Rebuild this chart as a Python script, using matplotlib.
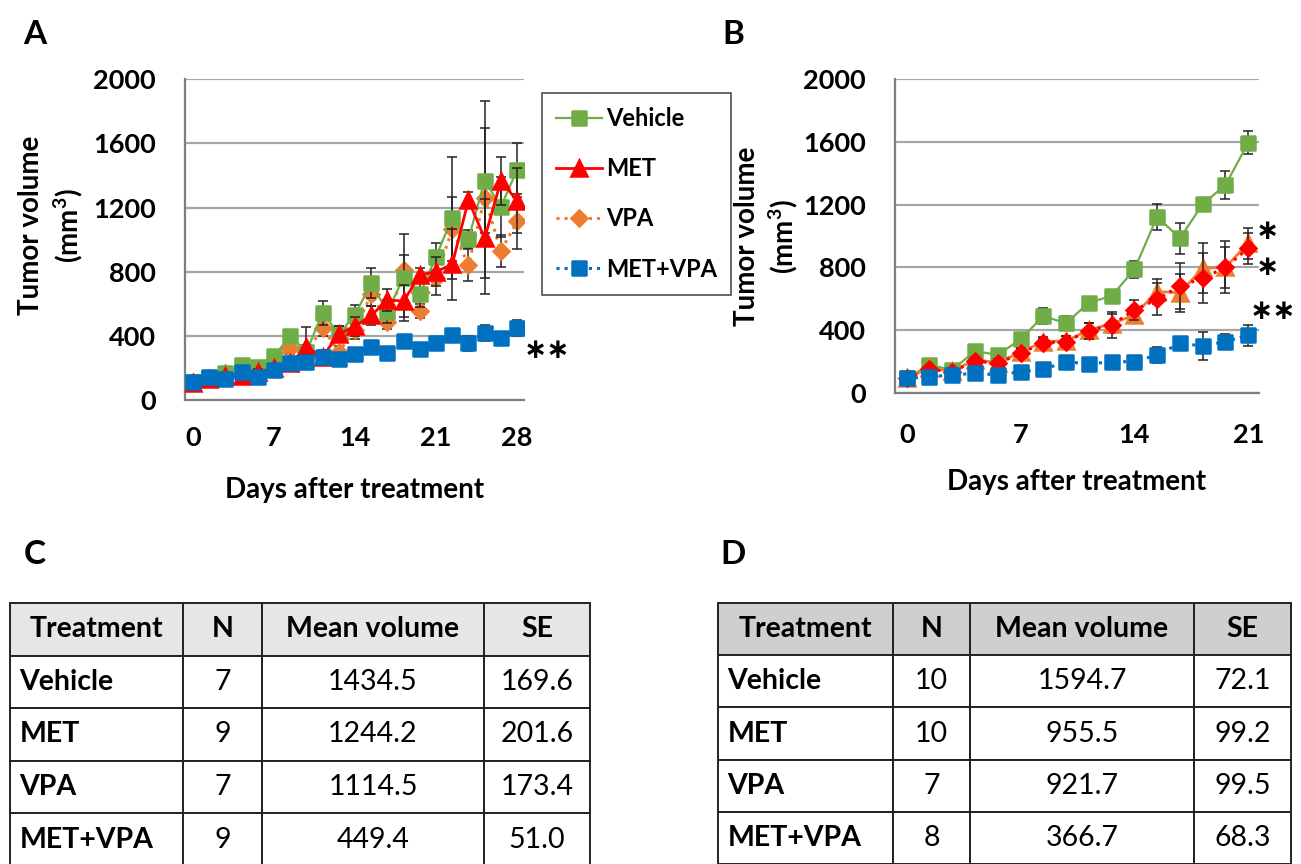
import matplotlib
matplotlib.use("Agg")
import matplotlib.pyplot as plt
from matplotlib.markers import MarkerStyle
from matplotlib.table import Table

plt.rcParams['font.family'] = ['Lato', 'DejaVu Sans']
plt.rcParams['font.weight'] = 'bold'
plt.rcParams['mathtext.fontset'] = 'custom'
plt.rcParams['mathtext.rm'] = 'Lato:bold'
plt.rcParams['mathtext.bf'] = 'Lato:bold'

W, H = 1301, 864

# ---- panel A data (days after treatment, mean volume, SE) ----
days_a = [0, 1.4, 2.8, 4.2, 5.6, 7, 8.4, 9.8, 11.2, 12.6, 14, 15.4, 16.8, 18.2, 19.6, 21, 22.4, 23.8, 25.2, 26.6, 28]
vehicle_a = [110, 140, 166, 218, 208, 274, 399, 300, 544, 410, 532, 728, 551, 763, 659, 894, 1137, 1004, 1368, 1206, 1434]
met_a = [105, 130, 150, 150, 175, 200, 230, 328, 270, 412, 460, 527, 624, 617, 780, 800, 846, 1247, 1008, 1366, 1244]
vpa_a = [110, 135, 170, 150, 198, 249, 322, 300, 447, 301, 437, 659, 484, 811, 555, 763, 1066, 842, 1262, 929, 1114]
combo_a = [114, 146, 131, 177, 146, 187, 233, 239, 266, 254, 287, 328, 291, 368, 316, 353, 403, 353, 416, 385, 449]
vehicle_se_a = [10, 15, 20, 20, 20, 25, 35, 45, 75, 50, 60, 94, 70, 270, 80, 83, 380, 58, 328, 187, 170]
met_se_a = [10, 15, 15, 20, 20, 25, 30, 129, 40, 50, 60, 62, 70, 100, 46, 90, 222, 50, 245, 152, 202]
vpa_se_a = [10, 15, 25, 20, 20, 25, 35, 40, 50, 35, 55, 70, 40, 94, 42, 108, 200, 98, 600, 98, 173]
combo_se_a = [15, 20, 15, 20, 15, 20, 25, 40, 30, 35, 25, 25, 40, 33, 35, 30, 30, 45, 50, 40, 51]

# ---- panel B data ----
days_b = [0, 1.4, 2.8, 4.2, 5.6, 7, 8.4, 9.8, 11.2, 12.6, 14, 15.4, 16.8, 18.2, 19.6, 21]
vehicle_b = [92, 177, 145, 266, 241, 341, 489, 443, 575, 617, 787, 1123, 985, 1204, 1326, 1595]
met_b = [95, 155, 138, 210, 192, 258, 325, 330, 400, 440, 496, 645, 638, 794, 800, 955]
vpa_b = [92, 149, 134, 202, 187, 251, 319, 326, 396, 432, 528, 596, 681, 730, 800, 922]
combo_b = [92, 102, 113, 124, 113, 134, 149, 198, 183, 198, 198, 241, 315, 298, 326, 367]
vehicle_se_b = [10, 20, 15, 25, 20, 25, 53, 45, 30, 40, 53, 83, 98, 30, 87, 72]
met_se_b = [10, 15, 15, 20, 20, 25, 30, 35, 45, 60, 50, 80, 120, 160, 130, 99]
vpa_se_b = [10, 15, 15, 20, 20, 25, 30, 35, 51, 81, 64, 102, 149, 160, 166, 100]
combo_se_b = [10, 10, 10, 15, 10, 15, 15, 20, 20, 20, 20, 51, 30, 89, 47, 68]

# ---- tables ----
col_labels = ["Treatment", "N", "Mean volume", "SE"]
treatments = ["Vehicle", "MET", "VPA", "MET+VPA"]
n_c = ["7", "9", "7", "9"]
mean_c = ["1434.5", "1244.2", "1114.5", "449.4"]
se_c = ["169.6", "201.6", "173.4", "51.0"]
n_d = ["10", "10", "7", "8"]
mean_d = ["1594.7", "955.5", "921.7", "366.7"]
se_d = ["72.1", "99.2", "99.5", "68.3"]

GREEN, RED, ORANGE, BLUE = '#70ad47', '#ff0000', '#ed7d31', '#0070c0'
TICK_FS = 19.5
LAB_FS = 20


def px_axes(fig, left, top, right, bottom):
    return fig.add_axes([left / W, 1 - bottom / H, (right - left) / W, (bottom - top) / H])


def fx(x):
    return x / W


def fy(y):
    return 1 - y / H


def rsq():
    return MarkerStyle('s', joinstyle='round')


def series(ax, x, y, se, color, marker, ls, lw, ms, z, label):
    ax.errorbar(x, y, yerr=se, fmt='none', ecolor='#222222', elinewidth=1.1,
                capsize=3.5, capthick=1.1, zorder=z - 0.5)
    ax.plot(x, y, color=color, ls=ls, lw=lw, marker=marker, ms=ms,
            mfc=color, mec=color, mew=1.8, zorder=z, label=label)


def style_axes(ax, xticks, xlim, xpad):
    ax.set_ylim(0, 2000)
    ax.set_xlim(*xlim)
    ax.set_yticks([0, 400, 800, 1200, 1600, 2000])
    ax.set_xticks(xticks)
    ax.yaxis.grid(True, color='#a6a6a6', lw=1.6)
    ax.set_axisbelow(True)
    for s in ['top', 'right']:
        ax.spines[s].set_visible(False)
    for s in ['left', 'bottom']:
        ax.spines[s].set_color('#7f7f7f')
        ax.spines[s].set_linewidth(1.6)
    ax.tick_params(axis='y', length=0, pad=21, labelsize=TICK_FS)
    ax.tick_params(axis='x', length=0, pad=xpad, labelsize=TICK_FS)
    for t in ax.get_xticklabels() + ax.get_yticklabels():
        t.set_fontweight('bold')


def star(x, y, txt, ha='center'):
    fig.text(fx(x), fy(y), txt, fontsize=20, fontweight='bold',
             family='DejaVu Sans', ha=ha, va='center')


fig = plt.figure(figsize=(W / 100, H / 100), dpi=100)

# ---------- panel A ----------
axA = px_axes(fig, 185, 79.3, 524, 400)
series(axA, days_a, vpa_a, vpa_se_a, ORANGE, 'D', ':', 2.2, 8.5, 3, 'VPA')
series(axA, days_a, vehicle_a, vehicle_se_a, GREEN, rsq(), '-', 1.6, 10.5, 4, 'Vehicle')
series(axA, days_a, met_a, met_se_a, RED, '^', '-', 2.0, 11, 5, 'MET')
series(axA, days_a, combo_a, combo_se_a, BLUE, rsq(), ':', 2.2, 10.5, 6, 'MET+VPA')
style_axes(axA, [0, 7, 14, 21, 28], (-0.69, 28.6), 19)
axA.set_xlabel('Days after treatment', fontsize=LAB_FS, fontweight='bold', labelpad=19)
axA.set_ylabel('Tumor volume\n(mm$^{3}$)', fontsize=LAB_FS, fontweight='bold', linespacing=1.25)
axA.yaxis.set_label_coords(-0.295, 0.545)

handles, labels = axA.get_legend_handles_labels()
order = [labels.index(k) for k in treatments]
leg = axA.legend([handles[i] for i in order], [labels[i] for i in order],
                 loc='upper left', bbox_to_anchor=(fx(542), fy(93)),
                 bbox_transform=fig.transFigure, frameon=True, fancybox=False,
                 edgecolor='#222222', fontsize=17, handlelength=1.95,
                 handletextpad=0.15, labelspacing=1.15, borderpad=0.6,
                 borderaxespad=0)
leg.get_frame().set_linewidth(1.2)
for t in leg.get_texts():
    t.set_fontweight('bold')

star(547, 350, '∗∗')

# ---------- panel B ----------
axB = px_axes(fig, 895, 79.3, 1259, 392.7)
series(axB, days_b, vehicle_b, vehicle_se_b, GREEN, rsq(), '-', 1.6, 10.5, 3, 'Vehicle')
series(axB, days_b, met_b, met_se_b, ORANGE, '^', '-', 2.0, 11, 4, 'MET')
series(axB, days_b, vpa_b, vpa_se_b, RED, 'D', ':', 2.2, 8.5, 5, 'VPA')
series(axB, days_b, combo_b, combo_se_b, BLUE, rsq(), ':', 2.2, 10.5, 6, 'MET+VPA')
style_axes(axB, [0, 7, 14, 21], (-0.72, 21.66), 22)
axB.set_xlabel('Days after treatment', fontsize=LAB_FS, fontweight='bold', labelpad=16)
axB.set_ylabel('Tumor volume\n(mm$^{3}$)', fontsize=LAB_FS, fontweight='bold', linespacing=1.25)
axB.yaxis.set_label_coords(-0.26, 0.5)

star(1267, 231, '∗')
star(1267, 267, '∗')
star(1296, 311, '∗∗', ha='right')

# ---------- panel labels ----------
for lab, x, y in [('A', 35, 35), ('B', 733, 34), ('C', 35, 555), ('D', 733, 555)]:
    fig.text(fx(x), fy(y), lab, fontsize=24, fontweight='bold', ha='center', va='center')


# ---------- tables ----------
def draw_table(left, top, right, bottom, widths, n, mean, se, head_color):
    ax = px_axes(fig, left, top, right, bottom)
    ax.set_axis_off()
    tb = Table(ax, bbox=[0, 0, 1, 1])
    total = sum(widths)
    rows = [col_labels] + [[treatments[i], n[i], mean[i], se[i]] for i in range(len(treatments))]
    nrows = len(rows)
    for r, row in enumerate(rows):
        for c, txt in enumerate(row):
            loc = 'left' if (c == 0 and r > 0) else 'center'
            cell = tb.add_cell(r, c, widths[c] / total, 1 / nrows, text=txt, loc=loc,
                               facecolor=head_color if r == 0 else 'white',
                               edgecolor='#222222')
            cell.set_linewidth(1.4)
            cell.PAD = 0.055
            t = cell.get_text()
            t.set_fontsize(20.5)
            t.set_fontweight('bold' if (r == 0 or c == 0) else 'normal')
    tb.auto_set_font_size(False)
    ax.add_table(tb)


draw_table(10, 603, 590, 866, [173, 79, 222, 106], n_c, mean_c, se_c, '#e7e6e6')
draw_table(718, 603, 1291, 864, [175, 77, 224, 97], n_d, mean_d, se_d, '#d0cece')

fig.savefig('out.png', dpi=100)
